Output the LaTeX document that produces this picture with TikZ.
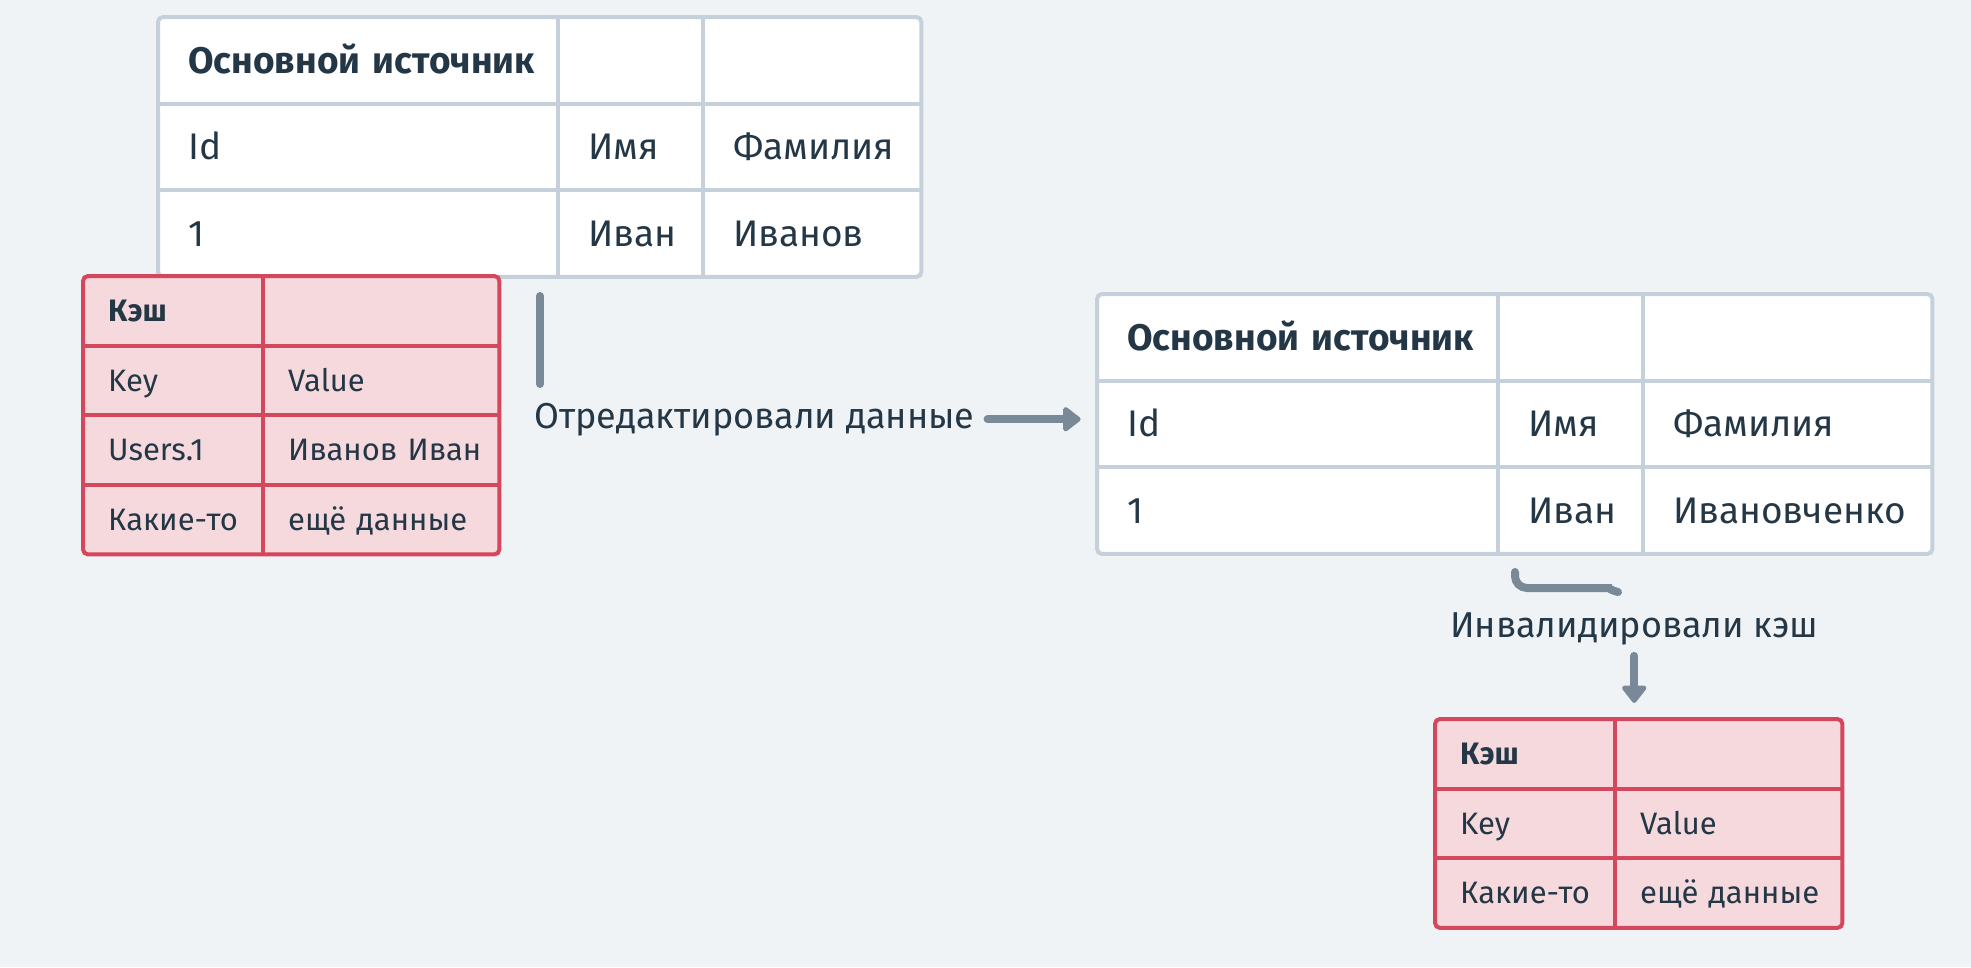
\documentclass[tikz,border=0pt]{standalone}
\usepackage{fontspec}
\setmainfont{Fira Sans}
\usetikzlibrary{arrows.meta}
\definecolor{bgc}{HTML}{EFF3F6}
\definecolor{gline}{HTML}{C6D0DA}
\definecolor{rline}{HTML}{D4475C}
\definecolor{rfill}{HTML}{F6D9DD}
\definecolor{ink}{HTML}{243746}
\definecolor{arr}{HTML}{7A8997}
\begin{document}
\begin{tikzpicture}[x=1pt,y=-1pt,
    cellbox/.style={anchor=north west,inner ysep=0pt,align=left,text=ink,
      execute at begin node={\hbox\bgroup},execute at end node={\egroup}},
    gcell/.style={cellbox,fill=white,minimum height=86.5pt,inner xsep=30pt,
      text height=30pt,text depth=4pt,font=\fontsize{37}{44}\selectfont},
    rcell/.style={cellbox,fill=rfill,minimum height=69.5pt,inner xsep=25pt,
      text height=26pt,text depth=4pt,font=\fontsize{31}{37}\selectfont},
    gframe/.style={draw=gline,line width=4pt,rounded corners=5pt},
    gsep/.style={draw=gline,line width=4pt},
    rframe/.style={draw=rline,line width=4pt,rounded corners=5pt},
    rsep/.style={draw=rline,line width=4pt},
    flow/.style={draw=arr,line width=8pt,line cap=round},
    flowtip/.style={flow,-{Triangle[length=19pt,width=28pt,round]}},
    note/.style={anchor=base west,inner sep=0pt,text=ink,font=\fontsize{36}{43}\selectfont}]
  \fill[bgc] (0,0) rectangle (1971,967);

  \node[gcell,text width=340pt] (a11) at (158,17) {\textbf{Основной источник}};
  \node[gcell,text width=85pt] (a12) at (558,17) {};
  \node[gcell,text width=158pt] (a13) at (703,17) {};
  \node[gcell,text width=340pt] (a21) at (158,103.5) {Id};
  \node[gcell,text width=85pt] (a22) at (558,103.5) {Имя};
  \node[gcell,text width=158pt] (a23) at (703,103.5) {Фамилия};
  \node[gcell,text width=340pt] (a31) at (158,190) {1};
  \node[gcell,text width=85pt] (a32) at (558,190) {Иван};
  \node[gcell,text width=158pt] (a33) at (703,190) {Иванов};
  \draw[gsep] (a11.north east) -- (a31.south east);
  \draw[gsep] (a12.north east) -- (a32.south east);
  \draw[gsep] (a11.south west) -- (a13.south east);
  \draw[gsep] (a21.south west) -- (a23.south east);
  \draw[gframe] (a11.north west) rectangle (a33.south east);

  \node[rcell,text width=130pt] (c11) at (83,276) {\textbf{Кэш}};
  \node[rcell,text width=186pt] (c12) at (263,276) {};
  \node[rcell,text width=130pt] (c21) at (83,345.5) {Key};
  \node[rcell,text width=186pt] (c22) at (263,345.5) {Value};
  \node[rcell,text width=130pt] (c31) at (83,415) {Users.1};
  \node[rcell,text width=186pt] (c32) at (263,415) {Иванов Иван};
  \node[rcell,text width=130pt] (c41) at (83,484.5) {Какие-то};
  \node[rcell,text width=186pt] (c42) at (263,484.5) {ещё данные};
  \draw[rsep] (c11.north east) -- (c41.south east);
  \draw[rsep] (c11.south west) -- (c12.south east);
  \draw[rsep] (c21.south west) -- (c22.south east);
  \draw[rsep] (c31.south west) -- (c32.south east);
  \draw[rframe] (c11.north west) rectangle (c42.south east);

  \node[gcell,text width=341pt] (b11) at (1097,294) {\textbf{Основной источник}};
  \node[gcell,text width=85pt] (b12) at (1498,294) {};
  \node[gcell,text width=229pt] (b13) at (1643,294) {};
  \node[gcell,text width=341pt] (b21) at (1097,380.5) {Id};
  \node[gcell,text width=85pt] (b22) at (1498,380.5) {Имя};
  \node[gcell,text width=229pt] (b23) at (1643,380.5) {Фамилия};
  \node[gcell,text width=341pt] (b31) at (1097,467) {1};
  \node[gcell,text width=85pt] (b32) at (1498,467) {Иван};
  \node[gcell,text width=229pt] (b33) at (1643,467) {Ивановченко};
  \draw[gsep] (b11.north east) -- (b31.south east);
  \draw[gsep] (b12.north east) -- (b32.south east);
  \draw[gsep] (b11.south west) -- (b13.south east);
  \draw[gsep] (b21.south west) -- (b23.south east);
  \draw[gframe] (b11.north west) rectangle (b33.south east);

  \node[rcell,text width=130pt] (d11) at (1435,719) {\textbf{Кэш}};
  \node[rcell,text width=177pt] (d12) at (1615,719) {};
  \node[rcell,text width=130pt] (d21) at (1435,788.5) {Key};
  \node[rcell,text width=177pt] (d22) at (1615,788.5) {Value};
  \node[rcell,text width=130pt] (d31) at (1435,858) {Какие-то};
  \node[rcell,text width=177pt] (d32) at (1615,858) {ещё данные};
  \draw[rsep] (d11.north east) -- (d31.south east);
  \draw[rsep] (d11.south west) -- (d12.south east);
  \draw[rsep] (d21.south west) -- (d22.south east);
  \draw[rframe] (d11.north west) rectangle (d32.south east);

  \node[note] (m1) at (534,428) {Отредактировали данные};
  \coordinate (e1) at (540,296);
  \coordinate (e2) at (540,384);
  \draw[flow] (e1) -- (e2);
  \draw[flowtip] ([xshift=13pt]m1.east) -- ++(93,0);

  \node[note] (m2) at (1450,637) {Инвалидировали кэш};
  \coordinate (e3) at (1515,572);
  \coordinate (e4) at (1618,592);
  \draw[flow,rounded corners=12pt] (e3) -- ++(0,16) -- ++(85,0) to[out=0,in=165] (e4);
  \draw[flowtip] ([yshift=-11pt]m2.south) -- ++(0,47);
\end{tikzpicture}
\end{document}
